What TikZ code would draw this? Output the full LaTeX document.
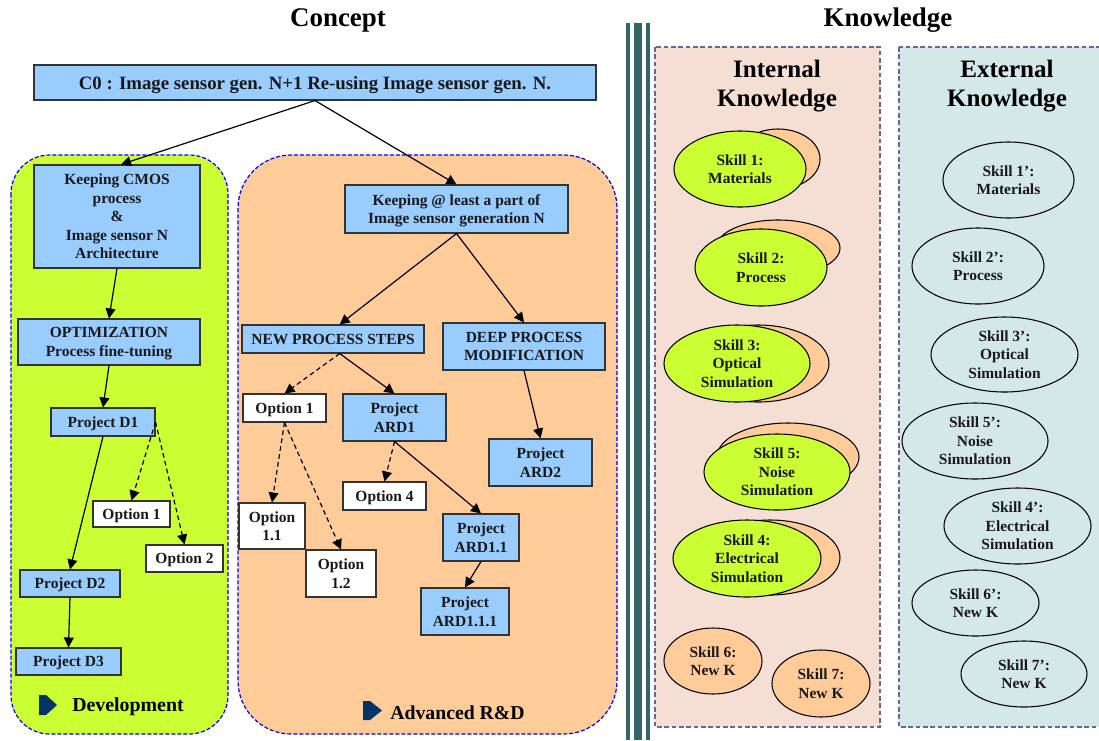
\documentclass[tikz,border=0pt]{standalone}
\usepackage{fontspec}
\setmainfont{Liberation Serif}
\usepackage{tikz}
\usetikzlibrary{arrows.meta,shapes.geometric}
\definecolor{boxblue}{HTML}{99CCFF}
\definecolor{limegreen}{HTML}{CCFF33}
\definecolor{peach}{HTML}{FFCC99}
\definecolor{internalbg}{HTML}{F5DFD4}
\definecolor{externalbg}{HTML}{D5E8E8}
\definecolor{barteal}{HTML}{336666}
\definecolor{panelline}{HTML}{666699}
\definecolor{markerblue}{HTML}{003366}
\tikzset{
  size/.style 2 args={minimum width=#1*0.75pt,minimum height=#2*0.75pt},
  label text/.style={font=\fontsize{11.6}{13.9}\selectfont\bfseries,align=center,text=black!90,inner sep=0pt,text depth=-1pt},
  bluebox/.style={label text,draw=black!80,line width=0.8pt,fill=boxblue},
  whitebox/.style={label text,draw=black!80,line width=0.8pt,fill=white},
  skill/.style={label text,ellipse,draw=black,line width=0.8pt},
  solidarrow/.style={-{Triangle[length=7.5pt,width=7.5pt]},line width=0.9pt},
  dashedarrow/.style={solidarrow,dash pattern=on 3.5pt off 2.5pt},
  bluepanel/.style={draw=blue,fill=#1,line width=0.9pt,dash pattern=on 3pt off 1.5pt},
  greypanel/.style={draw=panelline,fill=#1,line width=0.9pt,dash pattern=on 3.5pt off 2pt},
}
\begin{document}
\begin{tikzpicture}[x=0.75pt,y=-0.75pt]
\useasboundingbox (0,0) rectangle (1099,740);
% the titles
\node[font=\fontsize{20.2}{23}\selectfont\bfseries] (concept) at (338,20) {Concept};
\node[font=\fontsize{20.2}{23}\selectfont\bfseries] (knowledge) at (888,20) {Knowledge};
% the three bars
\fill[barteal] (626,23) rectangle (630,740);
\fill[barteal] (634,23) rectangle (642,740);
\fill[barteal] (646,23) rectangle (650,740);
% the panels
\draw[bluepanel=limegreen,rounded corners=29pt] (11,155) rectangle (228,734);
\draw[bluepanel=peach,rounded corners=40pt] (238,155) rectangle (617,734);
\draw[greypanel=internalbg] (655,47) rectangle (880,727);
\draw[greypanel=externalbg] (899,47) rectangle (1101,727);
\node[font=\fontsize{18.8}{21.75}\selectfont\bfseries,align=center] (internal) at (777,86) {Internal\\Knowledge};
\node[font=\fontsize{18.8}{21.75}\selectfont\bfseries,align=center] (external) at (1007,86) {External\\Knowledge};
% the boxes of the concept side
\node[bluebox,size={562}{35},font=\fontsize{14.1}{15}\selectfont\bfseries] (czero) at (315,82.5) {C0 : Image sensor gen. N+1 Re-using Image sensor gen. N.};
\node[bluebox,size={166}{103}] (cmos) at (117,216.5) {Keeping CMOS\\process\\\&\\Image sensor N\\Architecture};
\node[bluebox,size={182}{46}] (optim) at (109,342) {OPTIMIZATION\\Process fine-tuning};
\node[bluebox,size={104}{28}] (done) at (103,422) {Project D1};
\node[whitebox,size={77}{26}] (devoptone) at (131.5,514) {Option 1};
\node[whitebox,size={77}{27}] (devopttwo) at (184.5,558.5) {Option 2};
\node[bluebox,size={100}{27}] (dtwo) at (70,583.5) {Project D2};
\node[bluebox,size={105}{27}] (dthree) at (68.5,661.5) {Project D3};
\node[bluebox,size={223}{48}] (keepn) at (456.5,209) {Keeping @ least a part of\\Image sensor generation N};
\node[bluebox,size={182}{28}] (newsteps) at (333,339) {NEW PROCESS STEPS};
\node[bluebox,size={162}{47}] (deep) at (524,346.5) {DEEP PROCESS\\MODIFICATION};
\node[whitebox,size={83}{28}] (optone) at (284.5,408) {Option 1};
\node[bluebox,size={103}{47}] (ardone) at (394.5,417.5) {Project\\ARD1};
\node[whitebox,size={83}{28}] (optfour) at (384.5,496) {Option 4};
\node[bluebox,size={103}{47}] (ardtwo) at (540.5,462.5) {Project\\ARD2};
\node[whitebox,size={66}{46}] (optoneone) at (272,526) {Option\\1.1};
\node[whitebox,size={70}{47}] (optonetwo) at (341,573.5) {Option\\1.2};
\node[bluebox,size={76}{47}] (ardoneone) at (481,537.5) {Project\\ARD1.1};
\node[bluebox,size={88}{47}] (ardoneoneone) at (465,611.5) {Project\\ARD1.1.1};
% the arrows of the concept side
\draw[solidarrow] (czero.south) -- ([xshift=3pt]cmos.north);
\draw[solidarrow] (czero.south) -- (keepn.north);
\draw[solidarrow] (cmos.south) -- (optim.north);
\draw[solidarrow] (optim.south) -- (done.north);
\draw[solidarrow] (done.south) -- (dtwo.north);
\draw[solidarrow] (dtwo.south) -- (dthree.north);
\draw[dashedarrow] (done.east) -- (devoptone.north);
\draw[dashedarrow] (done.east) -- (devopttwo.north);
\draw[solidarrow] (keepn.south) -- ([xshift=5pt]newsteps.north);
\draw[solidarrow] (keepn.south) -- (deep.north);
\draw[dashedarrow] ([xshift=5pt]newsteps.south) -- (optone.north);
\draw[solidarrow] ([xshift=5pt]newsteps.south) -- (ardone.north);
\draw[solidarrow] (deep.south) -- (ardtwo.north);
\draw[dashedarrow] (optone.south) -- (optoneone.north);
\draw[dashedarrow] (optone.south) -- (optonetwo.north);
\draw[dashedarrow] (ardone.south) -- (optfour.north);
\draw[solidarrow] (ardone.south) -- (ardoneone.north);
\draw[solidarrow] (ardoneone.south) -- (ardoneoneone.north);
% the two markers and their labels
\fill[markerblue] (39,695) -- (46,695) -- (57,705) -- (46,715) -- (39,715) -- cycle;
\node[font=\fontsize{14.9}{17}\selectfont\bfseries] (development) at (128,707) {Development};
\fill[markerblue] (363,701) -- (370,701) -- (382,710.5) -- (370,720) -- (363,720) -- cycle;
\node[font=\fontsize{14.8}{17}\selectfont\bfseries] (advanced) at (457.5,713) {Advanced R\&D};
% the internal skills, the orange one behind the green one
\node[skill,fill=peach,size={84}{60}] (skillbackone) at (778,159) {};
\node[skill,fill=limegreen,size={132}{76}] (skillone) at (740,169) {Skill 1:\\Materials};
\node[skill,fill=peach,size={124}{56}] (skillbacktwo) at (778,248) {};
\node[skill,fill=limegreen,size={132}{77}] (skilltwo) at (761,267.5) {Skill 2:\\Process};
\node[skill,fill=peach,size={142}{77}] (skillbackthree) at (758,363.5) {};
\node[skill,fill=limegreen,size={146}{77}] (skillthree) at (737,363.5) {Skill 3:\\Optical\\Simulation};
\node[skill,fill=peach,size={142}{68}] (skillbackfive) at (788,457) {};
\node[skill,fill=limegreen,size={146}{76}] (skillfive) at (777,472) {Skill 5:\\Noise\\Simulation};
\node[skill,fill=peach,size={140}{75}] (skillbackfour) at (770,557.5) {};
\node[skill,fill=limegreen,size={148}{77}] (skillfour) at (747,558.5) {Skill 4:\\Electrical\\Simulation};
\node[skill,fill=peach,size={98}{66}] (skillsix) at (713,661) {Skill 6:\\New K};
\node[skill,fill=peach,size={98}{67}] (skillseven) at (821,683.5) {Skill 7:\\New K};
% the external skills
\node[skill,fill=externalbg,size={131}{76}] (extone) at (1008.5,180) {Skill 1’:\\Materials};
\node[skill,fill=externalbg,size={132}{76}] (exttwo) at (978,266) {Skill 2’:\\Process};
\node[skill,fill=externalbg,size={147}{75}] (extthree) at (1004.5,354.5) {Skill 3’:\\Optical\\Simulation};
\node[skill,fill=externalbg,size={146}{76}] (extfive) at (975,441) {Skill 5’:\\Noise\\Simulation};
\node[skill,fill=externalbg,size={147}{76}] (extfour) at (1017.5,526) {Skill 4’:\\Electrical\\Simulation};
\node[skill,fill=externalbg,size={127}{66}] (extsix) at (975.5,603) {Skill 6’:\\New K};
\node[skill,fill=externalbg,size={126}{66}] (extseven) at (1024,674) {Skill 7’:\\New K};
\end{tikzpicture}
\end{document}
